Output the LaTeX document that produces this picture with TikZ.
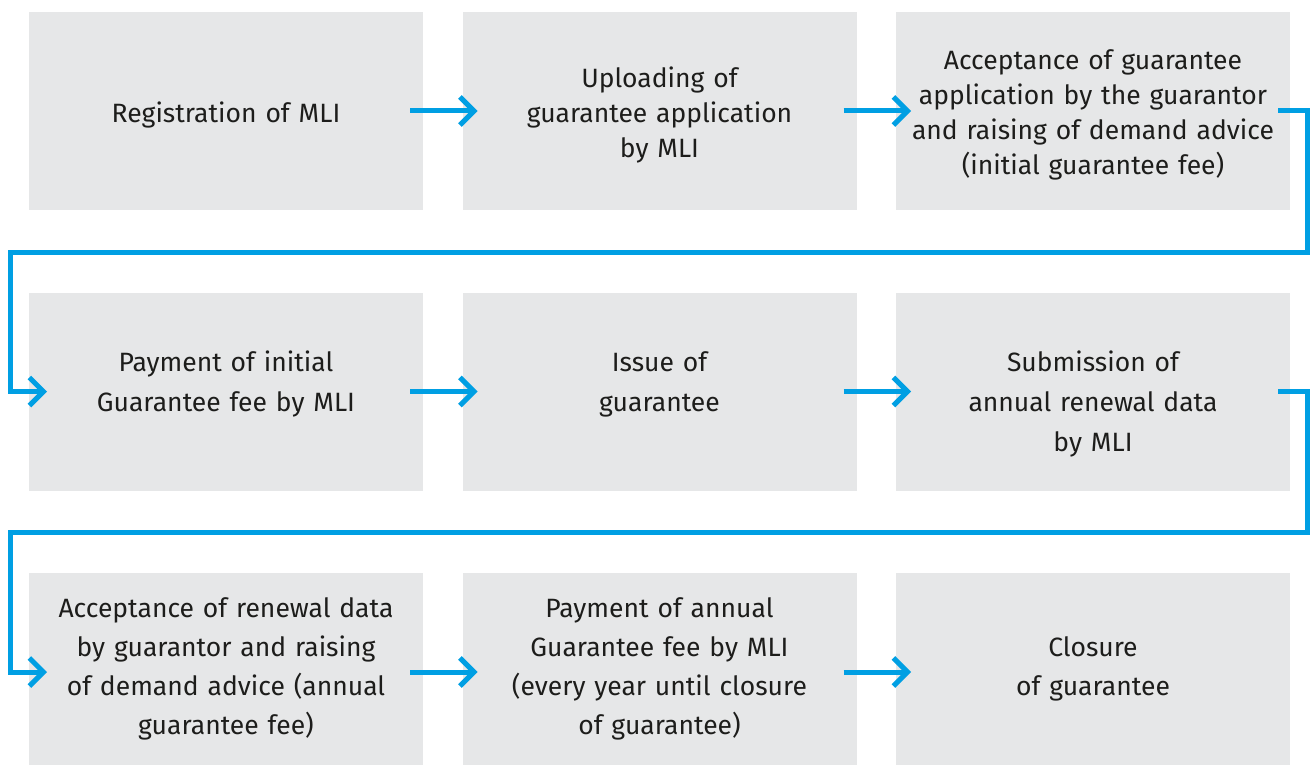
\documentclass[tikz,border=0pt]{standalone}
\usepackage{fontspec}
\setmainfont{Fira Sans}
\usetikzlibrary{positioning,arrows.meta}
\definecolor{boxgrey}{HTML}{E6E7E8}
\definecolor{flowblue}{HTML}{009FE3}
\definecolor{inkgrey}{HTML}{1D1D1B}
\tikzstyle{tips}=[%
	 btip/.tip = {Straight Barb[length=14pt, width=28pt]},
	 -btip]

\begin{document}
\begin{tikzpicture}[tips, x=1pt, y=-1pt]
			\def\mygap{39.5pt}
			\def\myvgap{82.5pt}
			\tikzstyle{etape}=[fill=boxgrey, text=inkgrey, minimum width=394pt, minimum height=198pt,
				inner sep=0pt, outer sep=0pt, text width=370pt, align=center, font=\fontsize{26.5}{35}\selectfont]
			\tikzstyle{premier}=[text height=28pt]
			\tikzstyle{haut}=[text height=20pt, text depth=60pt, font=\fontsize{26.5}{40}\selectfont]
			\tikzstyle{bas}=[minimum height=192pt, font=\fontsize{26.5}{39}\selectfont]
			\tikzstyle{fleche}=[draw=flowblue, line width=5pt]
			\useasboundingbox (0,0) rectangle (1310,765);
			% first row
			\node[etape, premier, anchor=north west] (registration) at (29,12) {Registration of MLI};
			\node[etape, premier, anchor=west] (upload) at ([xshift=\mygap]registration.east) {Uploading of\\ guarantee application\\ by MLI};
			\node[etape, premier, anchor=west] (acceptance) at ([xshift=\mygap]upload.east) {Acceptance of guarantee\\ application by the guarantor\\ and raising of demand advice\\ (initial guarantee fee)};
			% second row
			\node[etape, haut, anchor=north] (payinit) at ([yshift=-\myvgap]registration.south) {Payment of initial\\ Guarantee fee by MLI};
			\node[etape, haut, anchor=west] (issue) at ([xshift=\mygap]payinit.east) {Issue of\\ guarantee};
			\node[etape, haut, anchor=west] (renewal) at ([xshift=\mygap]issue.east) {Submission of\\ annual renewal data\\ by MLI};
			% third row
			\node[etape, bas, anchor=north] (accrenew) at ([yshift=-\myvgap]payinit.south) {Acceptance of renewal data\\ by guarantor and raising\\ of demand advice (annual\\ guarantee fee)};
			\node[etape, bas, anchor=north west] (payannual) at ([xshift=\mygap]accrenew.north east) {Payment of annual\\ Guarantee fee by MLI\\ (every year until closure\\ of guarantee)};
			\node[etape, bas, anchor=north west] (closure) at ([xshift=\mygap]payannual.north east) {Closure\\ of guarantee};
			% arrows
			\draw[fleche] ([xshift=-13pt]registration.east) -- ([xshift=15pt]upload.west);
			\draw[fleche] ([xshift=-13pt]upload.east) -- ([xshift=15pt]acceptance.west);
			\draw[fleche] ([xshift=-13pt]payinit.east) -- ([xshift=15pt]issue.west);
			\draw[fleche] ([xshift=-13pt]issue.east) -- ([xshift=15pt]renewal.west);
			\draw[fleche] ([xshift=-13pt,yshift=-3pt]accrenew.east) -- ([xshift=15pt,yshift=-3pt]payannual.west);
			\draw[fleche] ([xshift=-13pt,yshift=-3pt]payannual.east) -- ([xshift=15pt,yshift=-3pt]closure.west);
			\draw[fleche] ([xshift=-12pt]acceptance.east) -| ([xshift=17pt,yshift=-42pt]acceptance.south east) -| ([xshift=-19pt]payinit.west) -- ([xshift=18pt]payinit.west);
			\draw[fleche] ([xshift=-12pt]renewal.east) -| ([xshift=17pt,yshift=-42pt]renewal.south east) -| ([xshift=-19pt,yshift=-3pt]accrenew.west) -- ([xshift=18pt,yshift=-3pt]accrenew.west);
		\end{tikzpicture}
\end{document}
